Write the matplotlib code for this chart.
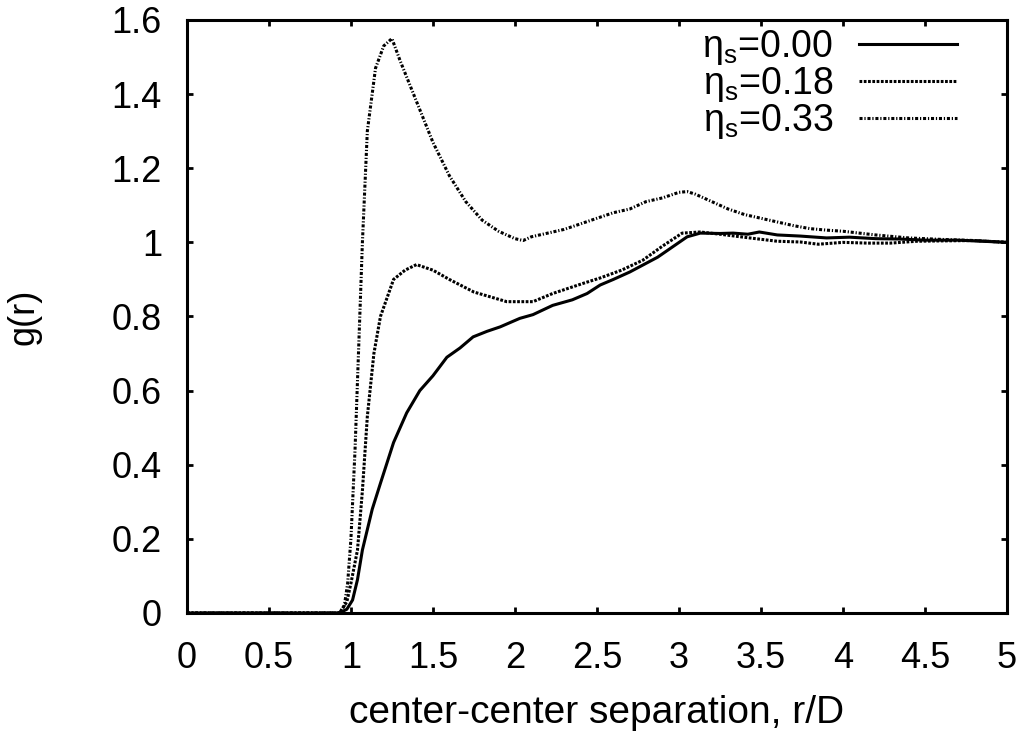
import matplotlib
matplotlib.use("Agg")
import matplotlib.pyplot as plt
from matplotlib.ticker import FuncFormatter

plt.rcParams['font.family'] = ['Liberation Sans', 'DejaVu Sans']
plt.rcParams['mathtext.fontset'] = 'custom'
plt.rcParams['mathtext.rm'] = 'Liberation Sans'
plt.rcParams['mathtext.it'] = 'Liberation Sans'

# eta_s = 0.00
r0 = [0.0, 0.5, 0.93, 0.975, 1.01, 1.04, 1.07, 1.13, 1.18, 1.26, 1.34, 1.42, 1.50, 1.585,
      1.665, 1.745, 1.83, 1.91, 2.03, 2.11, 2.23, 2.35, 2.44, 2.52, 2.60, 2.70, 2.87, 3.05,
      3.13, 3.25, 3.33, 3.42, 3.49, 3.60, 3.74, 3.90, 4.04, 4.20, 4.35, 4.50, 4.70, 4.85, 5.0]
g0 = [0.0, 0.0, 0.0, 0.01, 0.035, 0.09, 0.17, 0.28, 0.35, 0.46, 0.54, 0.60, 0.64, 0.69,
      0.715, 0.745, 0.76, 0.772, 0.795, 0.805, 0.83, 0.845, 0.862, 0.885, 0.90, 0.92, 0.96, 1.015,
      1.025, 1.024, 1.025, 1.022, 1.028, 1.02, 1.017, 1.012, 1.014, 1.01, 1.009, 1.006, 1.006, 1.003, 1.0]

# eta_s = 0.18
r1 = [0.0, 0.5, 0.93, 0.975, 1.0, 1.04, 1.07, 1.10, 1.14, 1.18, 1.26, 1.33, 1.40, 1.50,
      1.60, 1.75, 1.95, 2.11, 2.23, 2.42, 2.52, 2.65, 2.78, 2.90, 3.02, 3.13, 3.25, 3.43,
      3.60, 3.74, 3.85, 4.0, 4.15, 4.29, 4.45, 4.60, 4.80, 5.0]
g1 = [0.0, 0.0, 0.0, 0.03, 0.08, 0.17, 0.33, 0.53, 0.70, 0.80, 0.90, 0.925, 0.94, 0.925,
      0.90, 0.866, 0.84, 0.84, 0.862, 0.89, 0.904, 0.925, 0.952, 0.99, 1.025, 1.028, 1.022, 1.012,
      1.003, 1.001, 0.995, 1.0, 0.998, 0.998, 1.003, 1.004, 1.005, 1.0]

# eta_s = 0.33
r2 = [0.0, 0.5, 0.93, 0.96, 0.98, 1.0, 1.025, 1.05, 1.07, 1.10, 1.15, 1.20, 1.25, 1.30,
      1.40, 1.50, 1.60, 1.70, 1.80, 1.90, 2.0, 2.05, 2.10, 2.20, 2.30, 2.40, 2.50, 2.60,
      2.70, 2.80, 2.90, 3.0, 3.05, 3.10, 3.20, 3.30, 3.40, 3.50, 3.60, 3.70, 3.80, 3.90,
      4.0, 4.20, 4.40, 4.60, 4.80, 5.0]
g2 = [0.0, 0.0, 0.0, 0.02, 0.08, 0.20, 0.44, 0.75, 1.0, 1.30, 1.47, 1.53, 1.55, 1.49,
      1.38, 1.27, 1.18, 1.11, 1.06, 1.03, 1.01, 1.005, 1.015, 1.025, 1.035, 1.05, 1.065, 1.08,
      1.09, 1.11, 1.12, 1.135, 1.137, 1.13, 1.11, 1.09, 1.075, 1.065, 1.055, 1.045, 1.037, 1.033,
      1.03, 1.02, 1.012, 1.008, 1.005, 1.0]

labels = [r'$\mathregular{\eta_s}$=0.00', r'$\mathregular{\eta_s}$=0.18', r'$\mathregular{\eta_s}$=0.33']
xticks = [0, 0.5, 1, 1.5, 2, 2.5, 3, 3.5, 4, 4.5, 5]
yticks = [0, 0.2, 0.4, 0.6, 0.8, 1.0, 1.2, 1.4, 1.6]

fig = plt.figure(figsize=(10.27, 7.38), dpi=100)
ax = fig.add_axes([0.182, 0.1694, 0.7985, 0.8035])

lw = 2.2
ax.plot(r0, g0, color='black', lw=lw, linestyle='-', label=labels[0])
ax.plot(r1, g1, color='black', lw=lw, linestyle=(0, (0.9, 0.5)), label=labels[1])
ax.plot(r2, g2, color='black', lw=lw, linestyle=(0, (1.0, 0.6, 0.4, 0.6)), label=labels[2])

ax.set_xlim(0, 5)
ax.set_ylim(0, 1.6)
ax.set_xticks(xticks)
ax.set_yticks(yticks)
fmt = FuncFormatter(lambda v, p: '%g' % v)
ax.xaxis.set_major_formatter(fmt)
ax.yaxis.set_major_formatter(fmt)
ax.tick_params(direction='in', length=4, width=2, top=True, right=True,
               labelsize=26)
ax.tick_params(axis='x', pad=20)
ax.tick_params(axis='y', pad=18)
for s in ax.spines.values():
    s.set_linewidth(2.2)

ax.set_xlabel('center-center separation, r/D', fontsize=28)
ax.xaxis.set_label_coords(0.5, -0.138)
ax.set_ylabel('g(r)', fontsize=26)
ax.yaxis.set_label_coords(-0.177, 0.5)

leg = ax.legend(loc='upper right', bbox_to_anchor=(0.971, 1.031), frameon=False,
                markerfirst=False, fontsize=27, handlelength=2.6,
                labelspacing=-0.05, handletextpad=0.7, borderpad=0.2)

fig.savefig('out.png', dpi=100)
